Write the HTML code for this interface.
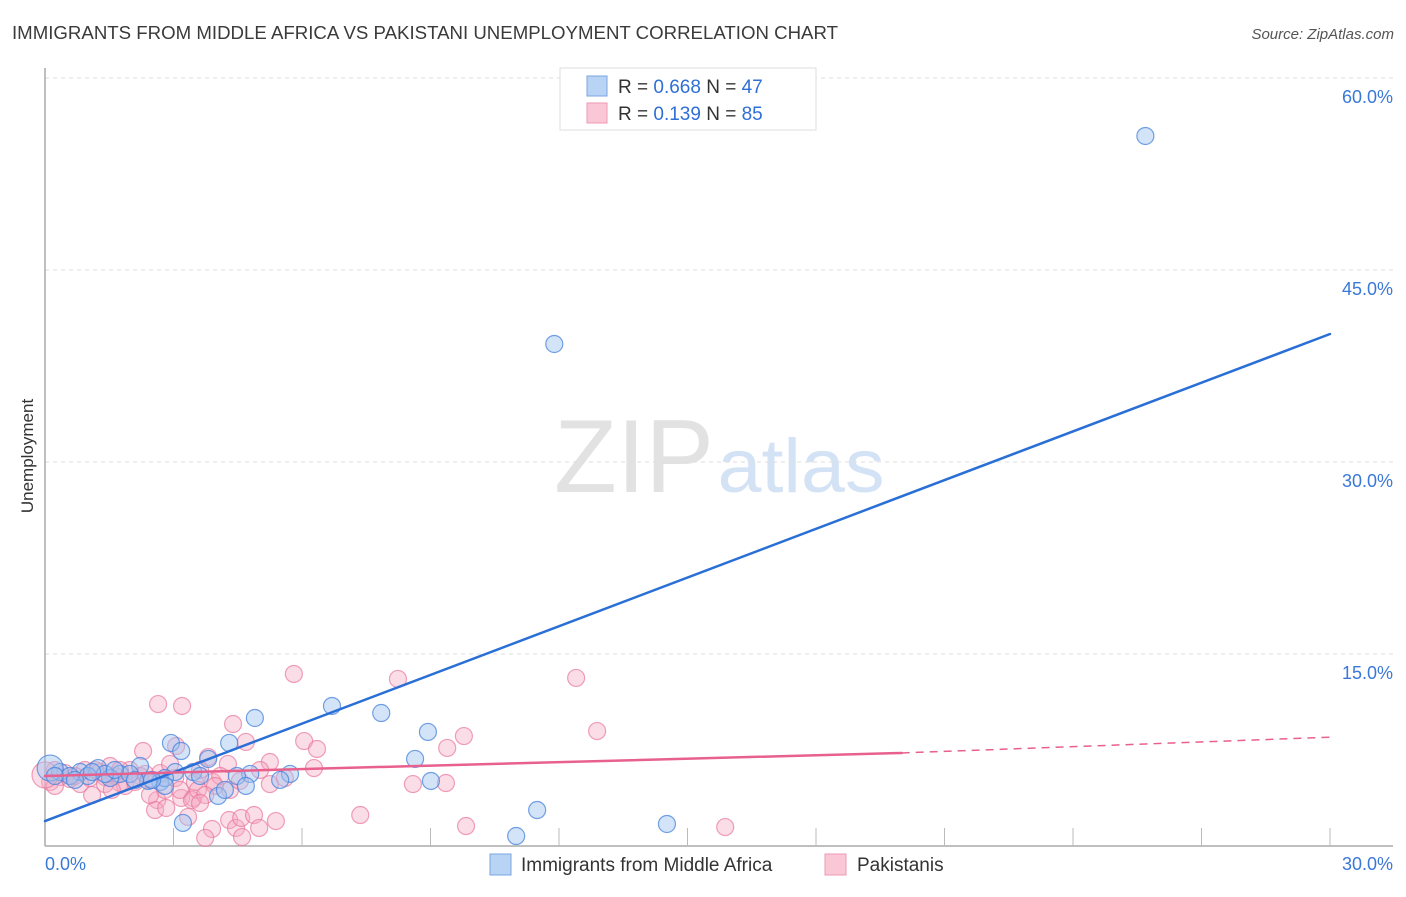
<!DOCTYPE html>
<html><head><meta charset="utf-8"><style>
body{margin:0;background:#fff;font-family:"Liberation Sans",sans-serif}
svg text{font-family:"Liberation Sans",sans-serif}
</style></head><body>
<svg id="chart" width="1406" height="892" xmlns="http://www.w3.org/2000/svg">
<text x="12" y="39" font-size="18" fill="#3a3a3a" textLength="826" lengthAdjust="spacingAndGlyphs">IMMIGRANTS FROM MIDDLE AFRICA VS PAKISTANI UNEMPLOYMENT CORRELATION CHART</text>
<text x="1394" y="39" font-size="15" fill="#555" font-style="italic" text-anchor="end">Source: ZipAtlas.com</text>
<text transform="translate(33,456) rotate(-90)" font-size="17" fill="#333" text-anchor="middle">Unemployment</text>
<g>
<text x="634" y="492" font-size="104" fill="#e2e2e2" font-family="Liberation Serif" text-anchor="middle" textLength="160" lengthAdjust="spacingAndGlyphs">ZIP</text>
<text x="801" y="492" font-size="76" fill="#d4e2f5" text-anchor="middle" textLength="167" lengthAdjust="spacingAndGlyphs">atlas</text>
</g>
<g id="grid"></g><g id="axes"></g><g id="marks"></g>
<g>
<rect x="560" y="68" width="256" height="62" fill="#fff" stroke="#ddd"/>
<rect x="587" y="76" width="20" height="20" fill="#b9d3f5" stroke="#7aa6e0"/>
<rect x="587" y="103" width="20" height="20" fill="#fac7d6" stroke="#ee9ab4"/>
<text x="618" y="93" font-size="19" fill="#333">R = <tspan fill="#2f6fd6">0.668</tspan>   N = <tspan fill="#2f6fd6">47</tspan></text>
<text x="618" y="120" font-size="19" fill="#333">R =  <tspan fill="#2f6fd6">0.139</tspan>   N = <tspan fill="#2f6fd6">85</tspan></text>
</g>
<g>
<rect x="490" y="854" width="21" height="21" fill="#b9d3f5" stroke="#7aa6e0"/>
<text x="521" y="871" font-size="19" fill="#333">Immigrants from Middle Africa</text>
<rect x="825" y="854" width="21" height="21" fill="#fac7d6" stroke="#ee9ab4"/>
<text x="857" y="871" font-size="19" fill="#333">Pakistanis</text>
</g>
</svg>
<script>
const yTicks=[15,30,45,60];
const yTickLabels=["15.0%","30.0%","45.0%","60.0%"];
const xTicks=[3,6,9,12,15,18,21,24,27,30];
const blueX=[25.69,11.89,6.70,7.85,4.90,8.94,2.94,4.30,3.18,8.64,3.81,2.22,5.72,4.79,3.46,3.04,4.48,9.01,2.69,2.41,1.24,1.75,1.52,0.82,0.35,0.12,4.04,4.69,3.22,11.49,14.52,11.0,1.98,1.0,0.58,3.62,2.80,2.10,1.40,0.70,0.23,2.80,4.20,5.49,2.50,1.63,1.10];
const blueY=[55.47,39.22,10.94,10.39,10.0,8.91,8.05,8.05,7.42,6.80,6.80,6.25,5.63,5.63,5.78,5.78,5.47,5.08,5.0,5.08,6.09,5.63,5.31,5.78,5.78,6.09,3.91,4.69,1.80,2.81,1.72,0.78,5.63,5.47,5.47,5.47,5.31,5.16,5.63,5.16,5.47,4.69,4.38,5.16,5.16,5.94,5.78];
const pinkX=[5.81,8.24,12.40,2.64,3.20,12.89,4.39,9.78,4.69,6.05,6.35,9.39,2.29,3.06,3.81,5.25,6.28,4.27,8.59,9.36,2.62,3.18,3.46,3.92,2.57,2.83,3.43,3.34,4.30,4.46,4.58,4.88,5.0,5.39,3.90,3.74,4.60,7.36,9.83,15.88,2.45,2.80,1.75,1.10,1.98,1.40,0.35,0.12,0.58,0.82,1.28,1.63,2.22,1.87,3.04,3.62,4.09,5.02,1.52,0.93,0.23,0.47,0.70,1.05,2.10,2.34,2.69,3.50,3.97,4.32,5.25,1.40,1.17,1.75,0.23,2.92,3.57,3.15,4.55,3.74,3.62,5.60,2.45,1.56,0];
const pinkY=[13.44,13.05,13.13,11.09,10.94,8.98,9.53,8.59,8.13,8.20,7.58,7.66,7.42,7.81,6.95,6.56,6.09,6.41,4.84,4.92,3.59,3.75,3.75,5.0,2.81,2.97,3.59,2.27,2.03,1.41,2.19,2.42,1.41,1.95,1.33,0.63,0.70,2.42,1.56,1.48,5.16,4.38,4.92,3.98,5.94,5.39,5.39,5.0,5.23,4.84,5.78,5.47,5.47,4.69,5.31,5.94,5.47,5.94,6.25,5.94,5.94,5.70,5.47,5.31,5.0,5.63,5.70,5.0,4.69,4.38,4.84,4.84,5.94,5.94,4.69,6.41,4.38,4.38,5.08,3.98,3.36,5.31,3.98,4.38,5.55];
const blueTrend=[1.95,40.0];
const pinkTrend=[5.47,7.27,8.5];
const pinkSolidEnd=20.0;
const X0=45,X1=1330,Y0=846,PY=12.8;
const sx=v=>X0+(X1-X0)*v/30, sy=v=>Y0-v*PY;
const NS="http://www.w3.org/2000/svg";
function mk(tag,attrs,parent){const e=document.createElementNS(NS,tag);for(const k in attrs)e.setAttribute(k,attrs[k]);document.getElementById(parent).appendChild(e);return e;}
yTicks.forEach((t,i)=>{
 const l=mk('line',{x1:X0,x2:1393,y1:sy(t),y2:sy(t),stroke:'#ddd','stroke-dasharray':'4,4'},'grid');
 
 
 const tx=mk('text',{x:1393,y:sy(t)+25,'font-size':18,fill:'#3a78d8','text-anchor':'end'},'grid');
 tx.textContent=yTickLabels[i];
 
 
});
const a1=mk('line',{x1:X0,x2:X0,y1:68,y2:Y0,stroke:'#aaa','stroke-width':1.5},'axes');


const a2=mk('line',{x1:X0,x2:1393,y1:Y0,y2:Y0,stroke:'#aaa','stroke-width':1.5},'axes');


xTicks.forEach(t=>{const l=mk('line',{x1:sx(t),x2:sx(t),y1:Y0,y2:Y0-18,stroke:'#bbb'},'axes');
 
 });
const xl=mk('text',{x:45,y:870,'font-size':18,fill:'#3a78d8'},'axes');xl.textContent='0.0%';


const xr=mk('text',{x:1393,y:870,'font-size':18,fill:'#3a78d8','text-anchor':'end'},'axes');xr.textContent='30.0%';


pinkX.forEach((v,i)=>{const c=mk('circle',{cx:sx(v),cy:sy(pinkY[i]),r:i==pinkX.length-1?13:8.5,fill:'rgba(246,170,195,0.4)',stroke:'rgba(232,120,158,0.7)','stroke-width':1.2},'marks');
 
 });
blueX.forEach((v,i)=>{const c=mk('circle',{cx:sx(v),cy:sy(blueY[i]),r:i==25?13:8.5,fill:'rgba(160,196,240,0.45)',stroke:'rgba(70,130,220,0.75)','stroke-width':1.2},'marks');
 
 });
const bl=mk('line',{x1:sx(0),y1:sy(blueTrend[0]),x2:sx(30),y2:sy(blueTrend[1]),stroke:'#2a6fd6','stroke-width':2.5,'stroke-linecap':'round'},'marks');


const pl=mk('line',{x1:sx(0),y1:sy(pinkTrend[0]),x2:sx(pinkSolidEnd),y2:sy(pinkTrend[1]),stroke:'#e8608e','stroke-width':2.5,'stroke-linecap':'round'},'marks');


const pd=mk('line',{x1:sx(pinkSolidEnd),y1:sy(pinkTrend[1]),x2:sx(30),y2:sy(pinkTrend[2]),stroke:'#e8608e','stroke-width':1.5,'stroke-dasharray':'8,6'},'marks');


</script>
</body></html>
